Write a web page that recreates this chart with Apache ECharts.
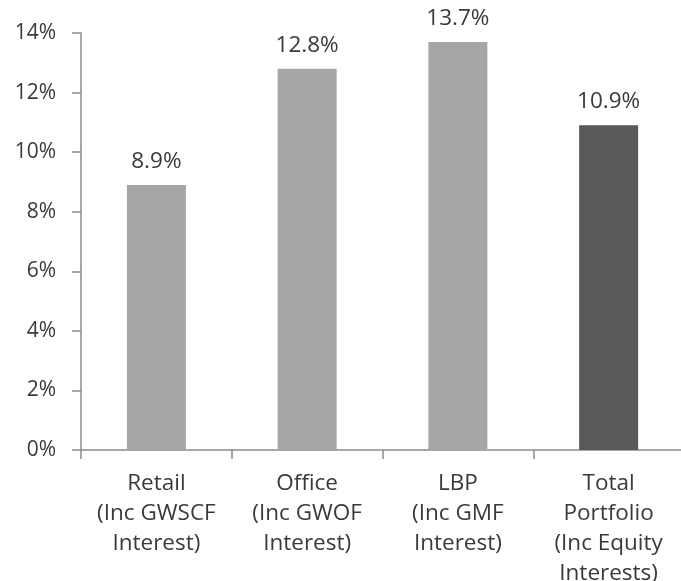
<!DOCTYPE html>
<html lang="en">
<head>
    <meta charset="UTF-8">
    <script src="https://cdn.jsdelivr.net/npm/echarts@6/dist/echarts.min.js"></script>
    <title>Returns</title>
    <style>
        html, body { margin: 0; padding: 0; background: #fff; }
    </style>
</head>
<body>

<div id="ec" style="width:681px;height:581px;"></div>

<script>
    var categories = [
        'Retail\n(Inc GWSCF\nInterest)',
        'Office\n(Inc GWOF\nInterest)',
        'LBP\n(Inc GMF\nInterest)',
        'Total\nPortfolio\n(Inc Equity\nInterests)'
    ];
    var values = [8.9, 12.8, 13.7, 10.9];
    var barColors = ['#a6a6a6', '#a6a6a6', '#a6a6a6', '#595959'];

    var font = '"Open Sans", "Noto Sans", sans-serif';
    var chart = echarts.init(document.getElementById('ec'));

    chart.setOption({
        animation: false,
        grid: {
            left: 81, right: -3, top: 33, bottom: 131,
            containLabel: false, outerBoundsMode: 'none'
        },
        xAxis: {
            type: 'category',
            data: categories,
            axisLine: {lineStyle: {color: '#8c8c8c', width: 1.5}},
            axisTick: {show: true, length: 9, lineStyle: {color: '#8c8c8c', width: 1.5}},
            axisLabel: {
                color: '#3a3a3a', fontFamily: font, fontSize: 22.5,
                lineHeight: 30, margin: 19, interval: 0
            }
        },
        yAxis: {
            type: 'value',
            min: 0, max: 14, interval: 2,
            axisLine: {show: true, lineStyle: {color: '#8c8c8c', width: 1.5}},
            axisTick: {show: true, length: 9, lineStyle: {color: '#8c8c8c', width: 1.5}},
            splitLine: {show: false},
            axisLabel: {
                color: '#3a3a3a', fontFamily: font, fontSize: 21, margin: 25,
                formatter: '{value}%'
            }
        },
        series: [{
            type: 'bar',
            barWidth: 59,
            data: values.map(function (v, i) {
                return {value: v, itemStyle: {color: barColors[i]}};
            }),
            label: {
                show: true, position: 'top', distance: 12,
                color: '#3a3a3a', fontFamily: font, fontSize: 22.5,
                formatter: function (p) { return p.value.toFixed(1) + '%'; }
            }
        }]
    });
</script>

</body>
</html>
